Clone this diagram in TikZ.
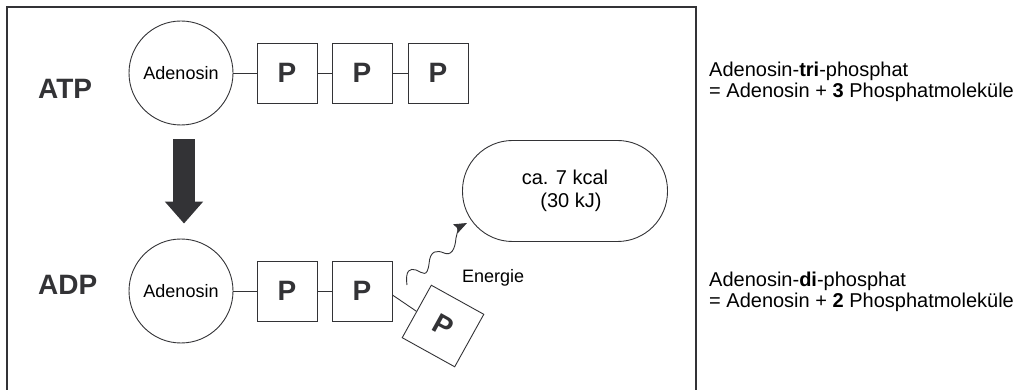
\documentclass[tikz,border=0pt]{standalone}
\usepackage{fontspec}
\setmainfont{Liberation Sans}
\usetikzlibrary{arrows.meta}
\definecolor{ink}{HTML}{333336}
\begin{document}
\begin{tikzpicture}[x=1pt,y=-1pt,
  line/.style={draw=ink, line width=0.9pt},
  adcircle/.style={line, circle, minimum size=104pt, inner sep=0pt, font=\fontsize{18}{21}\selectfont},
  pbox/.style={line, rectangle, minimum size=60pt, inner sep=0pt, text=ink, font=\bfseries\fontsize{28}{30}\selectfont},
  bond/.style={line},
  molname/.style={anchor=west, inner sep=0pt, text=ink, font=\bfseries\fontsize{28}{32}\selectfont},
  note/.style={anchor=west, inner sep=0pt, align=left, font=\fontsize{20}{21}\selectfont},
  energybox/.style={line, rectangle, rounded corners=50pt, minimum width=205pt, minimum height=101pt, align=center, font=\fontsize{20}{23}\selectfont},
  smalltext/.style={inner sep=0pt, font=\fontsize{18}{21}\selectfont},
  frameline/.style={draw=ink, line width=2.5pt},
  bigarrow/.style={draw=ink, line width=22pt, -{Triangle[length=22pt,width=37pt]}, fill=ink},
  wave/.style={line, -{Stealth[length=13pt,width=10pt,inset=2pt]}}
]
\useasboundingbox (0,0) rectangle (1031,390);
\begin{scope}
  \clip (0,0) rectangle (1031,390);
  \draw[frameline] (7,400) -- (7,7) -- (696,7) -- (696,400);
\end{scope}

% ATP row
\node[molname] (atp) at (38,89) {ATP};
\node[adcircle] (atpA) at (181,73) {Adenosin};
\node[pbox] (atp1) at (287,73) {P};
\node[pbox] (atp2) at (362,73) {P};
\node[pbox] (atp3) at (438,73) {P};
\draw[bond] (atpA) -- (atp1);
\draw[bond] (atp1) -- (atp2);
\draw[bond] (atp2) -- (atp3);

% ADP row
\node[molname] (adp) at (38,285) {ADP};
\node[adcircle] (adpA) at (181,291) {Adenosin};
\node[pbox] (adp1) at (287,291) {P};
\node[pbox] (adp2) at (362,291) {P};
\node[pbox, rotate=-29] (adp3) at (443,326) {P};
\draw[bond] (adpA) -- (adp1);
\draw[bond] (adp1) -- (adp2);
\draw[bond] ([yshift=-4pt]adp2.east) -- (adp3.west);

% big arrow
\draw[bigarrow, shorten <=14pt, shorten >=15pt] ([xshift=3pt]atpA.south) -- ([xshift=3pt]adpA.north);

% energy
\node[energybox] (en) at (565,191) {ca. 7 kcal\\[0pt]\hspace*{12pt}(30 kJ)};
\node[smalltext, anchor=west] (energie) at (462,278) {Energie};
\coordinate (w0) at (407,285);
\coordinate (w1) at (467,223);
\draw[wave] (w0) .. controls (405,270) and (410,268) .. (416,270)
  .. controls (423,273) and (427,278) .. (429,264)
  .. controls (430,250) and (437,250) .. (444,253)
  .. controls (451,256) and (455,250) .. (456,238)
  .. controls (457,231) and (461,226) .. (w1);

% notes
\node[note] (n1) at (709,81.5) {Adenosin-\textbf{tri}-phosphat\\= Adenosin + \textbf{3} Phosphatmoleküle};
\node[note] (n2) at (709,291.5) {Adenosin-\textbf{di}-phosphat\\= Adenosin + \textbf{2} Phosphatmoleküle};
\end{tikzpicture}
\end{document}
